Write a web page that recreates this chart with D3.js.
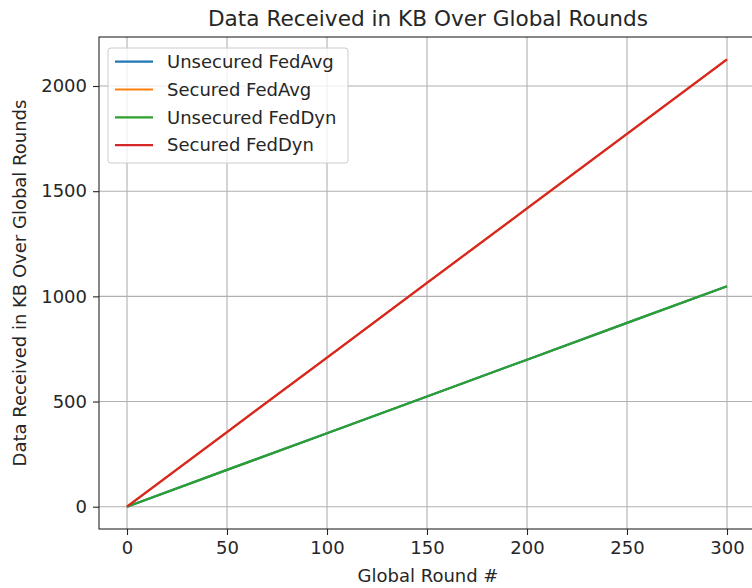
<!DOCTYPE html>
<html>
<head>
<meta charset="utf-8">
<script src="https://cdn.jsdelivr.net/npm/d3@7"></script>
<style>
  body { margin: 0; background: #fff; }
  svg text { font-family: "DejaVu Sans", sans-serif; fill: #262626; }
</style>
</head>
<body>
<svg id="chart" width="752" height="588"></svg>
<script>
// values (lines are straight, so a point every 50 rounds)
var rounds = [0, 50, 100, 150, 200, 250, 300];
var unsecuredFedAvg = [0, 175, 349, 524, 699, 874, 1048];
var securedFedAvg = [0, 355, 709, 1064, 1418, 1773, 2127];
var unsecuredFedDyn = [0, 175, 349, 524, 699, 874, 1048];
var securedFedDyn = [0, 355, 709, 1064, 1418, 1773, 2127];

var seriesNames = ['Unsecured FedAvg', 'Secured FedAvg', 'Unsecured FedDyn', 'Secured FedDyn'];
var seriesColors = ['#1f77b4', '#ff7f0e', '#2ca02c', '#d62728'];
var xTicks = [0, 50, 100, 150, 200, 250, 300];
var yTicks = [0, 500, 1000, 1500, 2000];

var series = [unsecuredFedAvg, securedFedAvg, unsecuredFedDyn, securedFedDyn];

var svg = d3.select('#chart');
// note: "top" is taken by window.top, so plot edges get their own names
var plotLeft = 99, plotRight = 757, plotTop = 37, plotBottom = 529;

var x = d3.scaleLinear().domain([-14, 315]).range([plotLeft, plotRight]);
var y = d3.scaleLinear().domain([-106, 2233]).range([plotBottom, plotTop]);

// grid
var grid = svg.append('g');
grid.selectAll('.gx').data(xTicks).enter().append('line')
  .attr('x1', function(d) { return x(d); }).attr('x2', function(d) { return x(d); })
  .attr('y1', plotTop).attr('y2', plotBottom)
  .attr('stroke', '#b0b0b0').attr('stroke-width', 1.1);
grid.selectAll('.gy').data(yTicks).enter().append('line')
  .attr('y1', function(d) { return y(d); }).attr('y2', function(d) { return y(d); })
  .attr('x1', plotLeft).attr('x2', plotRight)
  .attr('stroke', '#b0b0b0').attr('stroke-width', 1.1);

// lines
var line = d3.line()
  .x(function(d, i) { return x(rounds[i]); })
  .y(function(d) { return y(d); });

svg.selectAll('.series').data(series).enter().append('path')
  .attr('d', line)
  .attr('fill', 'none')
  .attr('stroke', function(d, i) { return seriesColors[i]; })
  .attr('stroke-width', 2.2);

// axes
var xAxis = d3.axisBottom(x).tickValues(xTicks).tickSize(6).tickPadding(6);
var yAxis = d3.axisLeft(y).tickValues(yTicks).tickSize(6).tickPadding(6)
  .tickFormat(d3.format('d'));

var gx = svg.append('g').attr('transform', 'translate(0,' + plotBottom + ')').call(xAxis);
var gy = svg.append('g').attr('transform', 'translate(' + plotLeft + ',0)').call(yAxis);
[gx, gy].forEach(function(g) {
  g.select('.domain').remove();
  g.selectAll('.tick line').attr('stroke', '#262626').attr('stroke-width', 1.1);
  g.selectAll('.tick text').style('font-size', '18px').attr('fill', '#262626')
    .attr('font-family', null);
});

// spines
svg.append('rect')
  .attr('x', plotLeft).attr('y', plotTop)
  .attr('width', plotRight - plotLeft).attr('height', plotBottom - plotTop)
  .attr('fill', 'none').attr('stroke', '#262626').attr('stroke-width', 1.1);

// legend
var legend = svg.append('g');
legend.append('rect')
  .attr('x', 108).attr('y', 48).attr('width', 240).attr('height', 115)
  .attr('rx', 3).attr('fill', '#fff').attr('fill-opacity', 0.8)
  .attr('stroke', '#cccccc').attr('stroke-width', 1);
var items = legend.selectAll('.item').data(seriesNames).enter().append('g')
  .attr('transform', function(d, i) { return 'translate(0,' + (61.7 + i * 27.8) + ')'; });
items.append('line')
  .attr('x1', 115).attr('x2', 153).attr('y1', 0).attr('y2', 0)
  .attr('stroke', function(d, i) { return seriesColors[i]; })
  .attr('stroke-width', 2.2);
items.append('text')
  .attr('x', 167).attr('y', 0).attr('dy', '0.35em')
  .style('font-size', '18px')
  .text(function(d) { return d; });

// title and axis labels
svg.append('text')
  .attr('x', (plotLeft + plotRight) / 2).attr('y', 26)
  .attr('text-anchor', 'middle').style('font-size', '21.6px')
  .text('Data Received in KB Over Global Rounds');
svg.append('text')
  .attr('x', (plotLeft + plotRight) / 2).attr('y', 582)
  .attr('text-anchor', 'middle').style('font-size', '18px')
  .text('Global Round #');
svg.append('text')
  .attr('transform', 'translate(26,' + ((plotTop + plotBottom) / 2) + ') rotate(-90)')
  .attr('text-anchor', 'middle').style('font-size', '18px')
  .text('Data Received in KB Over Global Rounds');
</script>
</body>
</html>
